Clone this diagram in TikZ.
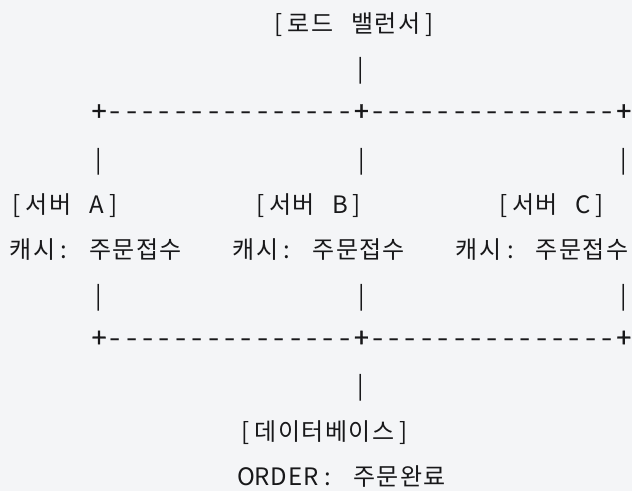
\documentclass[tikz,border=0pt]{standalone}
\usepackage{fontspec}
\usepackage{graphicx}
\newfontfamily\korfam{Noto Sans CJK KR}
\newfontfamily\latfam{Noto Sans CJK KR}
\newfontfamily\latbold[FakeBold=1.2]{Noto Sans CJK KR}
\definecolor{bgc}{RGB}{244,245,247}
\definecolor{ink}{RGB}{24,24,26}
\newcommand\Lc[1]{\makebox[16.4pt][c]{\latfam\fontsize{24}{28}\selectfont #1}}
\newcommand\Kc[1]{\makebox[23.5pt][c]{\korfam\fontsize{24}{28}\selectfont #1}}
\newcommand\Sp{\hspace*{16.4pt}}
\newcommand\Dc{\Lc{\scalebox{1.35}[1.15]{-}}}
\newcommand\Pc{\makebox[16.4pt][c]{\latbold\fontsize{24}{28}\selectfont\scalebox{1.1}{+}}}
\newcommand\Dsh{\Dc\Dc\Dc\Dc\Dc\Dc\Dc\Dc\Dc\Dc\Dc\Dc\Dc\Dc\Dc}
\begin{document}
\begin{tikzpicture}[x=1pt,y=-1pt,
  txt/.style={anchor=base west,inner sep=0pt,outer sep=0pt,text=ink}]
\useasboundingbox (0,0) rectangle (632,491);
\fill[bgc] (0,0) rectangle (632,491);
% row 1
\node[txt] (lb) at (270.8,32) {\Lc{[}\Kc{로}\Kc{드}\Sp\Kc{밸}\Kc{런}\Kc{서}\Lc{]}};
% row 2
\node[txt] (v1) at (352.4,77.3) {\Lc{|}};
% row 3
\node[txt] (h1) at (90.8,120.7) {\Pc\Dsh\Pc\Dsh\Pc};
% row 4
\node[txt] (va1) at (90.8,168) {\Lc{|}};
\node[txt] (vb1) at (353.2,168) {\Lc{|}};
\node[txt] (vc1) at (615.6,168) {\Lc{|}};
% row 5
\node[txt] (sa) at (8.8,213.8) {\Lc{[}\Kc{서}\Kc{버}\Sp\Lc{A}\Lc{]}};
\node[txt] (sb) at (252.0,213.8) {\Lc{[}\Kc{서}\Kc{버}\Sp\Lc{B}\Lc{]}};
\node[txt] (sc) at (495.2,213.8) {\Lc{[}\Kc{서}\Kc{버}\Sp\Lc{C}\Lc{]}};
% row 6
\node[txt] (ca) at (8.8,258.7) {\Kc{캐}\Kc{시}\Lc{:}\Sp\Kc{주}\Kc{문}\Kc{접}\Kc{수}};
\node[txt] (cb) at (232.0,258.7) {\Kc{캐}\Kc{시}\Lc{:}\Sp\Kc{주}\Kc{문}\Kc{접}\Kc{수}};
\node[txt] (cc) at (455.2,258.7) {\Kc{캐}\Kc{시}\Lc{:}\Sp\Kc{주}\Kc{문}\Kc{접}\Kc{수}};
% row 7
\node[txt] (va2) at (90.8,304) {\Lc{|}};
\node[txt] (vb2) at (353.2,304) {\Lc{|}};
\node[txt] (vc2) at (615.6,304) {\Lc{|}};
% row 8
\node[txt] (h2) at (90.8,347.3) {\Pc\Dsh\Pc\Dsh\Pc};
% row 9
\node[txt] (v2) at (352.4,394.7) {\Lc{|}};
% row 10
\node[txt] (db) at (237.8,440) {\Lc{[}\Kc{데}\Kc{이}\Kc{터}\Kc{베}\Kc{이}\Kc{스}\Lc{]}};
% row 11
\node[txt] (ord) at (237.8,485.3) {\Lc{O}\Lc{R}\Lc{D}\Lc{E}\Lc{R}\Lc{:}\Sp\Kc{주}\Kc{문}\Kc{완}\Kc{료}};
\end{tikzpicture}
\end{document}
